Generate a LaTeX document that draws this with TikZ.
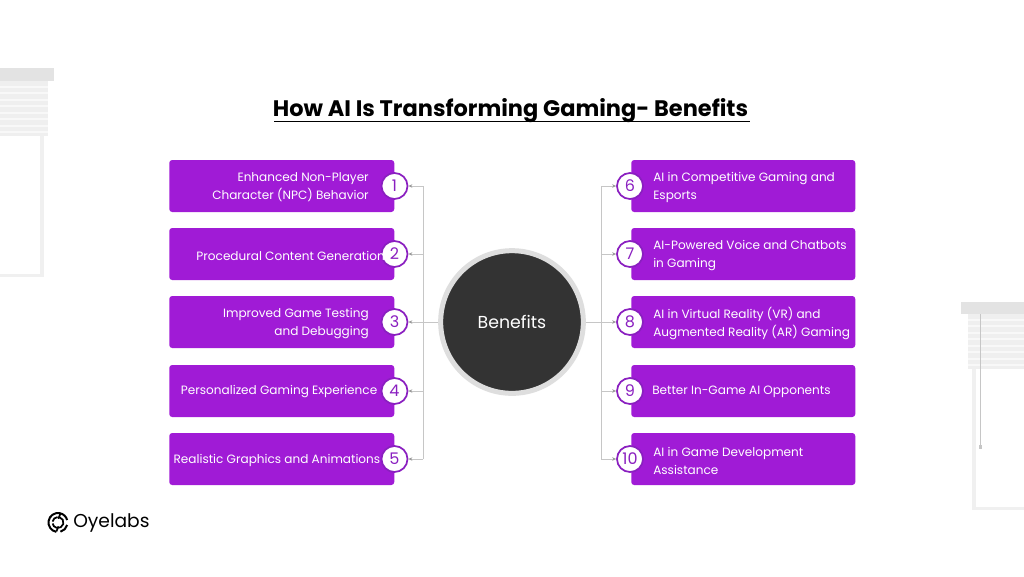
\documentclass[tikz,border=0pt]{standalone}
\usepackage{fontspec}
\usetikzlibrary{arrows.meta}
\setmainfont{Poppins}
\definecolor{boxpurple}{HTML}{A01BD6}
\definecolor{ringpurple}{HTML}{8A1FC0}
\definecolor{darkdisc}{HTML}{333333}
\definecolor{ringgrey}{HTML}{DEDEDE}
\definecolor{connline}{HTML}{C6C6C6}
\definecolor{tipgrey}{HTML}{999999}
\definecolor{blindbar}{HTML}{E3E3E3}
\definecolor{blindfill}{HTML}{EFEFEF}
\definecolor{blindlight}{HTML}{F8F8F8}
\definecolor{framegrey}{HTML}{F0F0F0}
\tikzset{
  x=0.75pt,y=-0.75pt,
  cardbox/.style={fill=boxpurple,rounded corners=2.2pt,minimum width=168pt,minimum height=39pt,inner sep=0pt,anchor=west},
  cardtext/.style={text=white,font=\fontsize{9.05}{13.6}\selectfont,inner sep=0pt},
  numdisc/.style={circle,draw=ringpurple,line width=1.3pt,fill=white,minimum size=19.5pt,inner sep=0pt,text=ringpurple,font=\fontsize{12}{12}\selectfont},
  conn/.style={draw=connline,line width=0.6pt},
  tipline/.style={conn,-{Stealth[length=3pt,width=2.6pt,color=tipgrey]}},
}
\begin{document}
\begin{tikzpicture}
\useasboundingbox (0,0) rectangle (1024,576);
\fill[white] (0,0) rectangle (1024,576);
% left blind
\fill[framegrey] (0,274) rectangle (44,277);
\fill[framegrey] (40,130) rectangle (44,277);
\fill[blindfill] (0,81) rectangle (48,136);
\foreach \y in {86,92,99,105,112,118,125,131}{\fill[blindlight] (0,\y) rectangle (48,\y+1.6);}
\fill[blindbar] (0,68) rectangle (54,81);
% right blind
\fill[framegrey] (972,360) rectangle (976,508);
\fill[framegrey] (972,507) rectangle (1024,510);
\fill[blindfill] (968,314) rectangle (1024,369);
\foreach \y in {319,325,332,338,345,351,358,364}{\fill[blindlight] (968,\y) rectangle (1024,\y+1.6);}
\draw[connline,line width=0.4pt] (980,314) -- (980,446);
\fill[connline] (979,445) rectangle (981.5,449);
\fill[blindbar] (961,302) rectangle (1024,314);
% title
\node[inner sep=0pt,font=\bfseries\fontsize{16.85}{20}\selectfont] (title) at (510.5,110.5) {How AI Is Transforming Gaming- Benefits};
\draw[black,line width=1.1pt] (274,121.5) -- (750,121.5);
% centre
\node[circle,fill=darkdisc,draw=ringgrey,line width=3.75pt,minimum size=107pt,inner sep=0pt,text=white,font=\fontsize{13}{14}\selectfont] (hub) at (512,322) {Benefits};
% cards
\foreach \n/\y in {1/186,2/254,3/322,4/391,5/459}{
  \node[cardbox,minimum width=168.75pt] (L\n) at (169,\y) {};
  \node[numdisc] (n\n) at (394.5,\y) {\n};
}
\foreach \n/\y in {6/186,7/254,8/322,9/391,10/459}{
  \node[cardbox] (R\n) at (631,\y) {};
  \node[numdisc] (n\n) at (630,\y) {\n};
}
% card text
\node[cardtext,anchor=east,align=right] (t1) at (369,187.5) {Enhanced Non-Player\\Character (NPC) Behavior};
\node[cardtext,anchor=east] (t2) at (385,255.5) {Procedural Content Generation};
\node[cardtext,anchor=east,align=right] (t3) at (369,323.5) {Improved Game Testing\\and Debugging};
\node[cardtext,anchor=east] (t4) at (377.5,392) {Personalized Gaming Experience};
\node[cardtext,anchor=east] (t5) at (380.5,460) {Realistic Graphics and Animations};
\node[cardtext,anchor=west,align=left] (t6) at (653,187.5) {AI in Competitive Gaming and\\Esports};
\node[cardtext,anchor=west,align=left] (t7) at (653,255.5) {AI-Powered Voice and Chatbots\\in Gaming};
\node[cardtext,anchor=west,align=left] (t8) at (653,323.5) {AI in Virtual Reality (VR) and\\Augmented Reality (AR) Gaming};
\node[cardtext,anchor=west] (t9) at (652,392) {Better In-Game AI Opponents};
\node[cardtext,anchor=west,align=left] (t10) at (653,461) {AI in Game Development\\Assistance};
% bus coordinates
\foreach \n/\y in {1/186,2/254,3/322,4/391,5/459}{\coordinate (bl\n) at (423,\y);}
\foreach \n/\y in {6/186,7/254,8/322,9/391,10/459}{\coordinate (br\n) at (601,\y);}
\draw[conn] (bl1) -- (bl5);
\draw[conn] (br6) -- (br10);
\draw[tipline] (hub.west) -- (n3);
\draw[tipline] (hub.east) -- (n8);
\foreach \n in {1,2,4,5}{\draw[tipline] (bl\n) -- (n\n);}
\foreach \n in {6,7,9,10}{\draw[tipline] (br\n) -- (n\n);}
% logo
\coordinate (logo) at (58,522.5);
\draw[black,line width=1.5pt] (logo) ++(100:9.5) arc[start angle=100,end angle=345,radius=9.5];
\draw[black,line width=1.5pt] (logo) ++(15:9.5) arc[start angle=15,end angle=75,radius=9.5];
\draw[black,line width=1.3pt] (logo) ++(-75:5.5) arc[start angle=-75,end angle=170,radius=5.5];
\draw[black,line width=1.3pt] (logo) ++(190:5.5) arc[start angle=190,end angle=265,radius=5.5];
\draw[black,line width=1.3pt] (logo) ++(-75:9) -- ++(-2,5);
\draw[black,line width=1.3pt] (logo) ++(100:9) -- ++(2,-5);
\node[inner sep=0pt,anchor=west,font=\fontsize{14}{16}\selectfont] (brand) at (73,522.5) {Oyelabs};
\end{tikzpicture}
\end{document}
